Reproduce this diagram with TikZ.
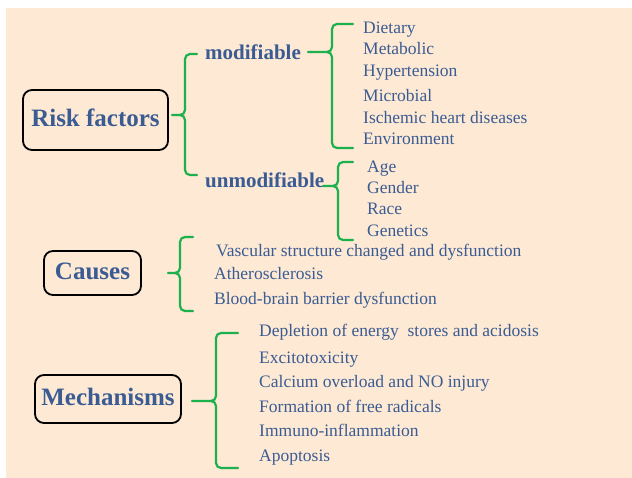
\documentclass[tikz,border=0pt]{standalone}
\usepackage{fontspec}
\setmainfont{Liberation Serif}
\definecolor{peach}{HTML}{FDE9D4}
\definecolor{txtblue}{HTML}{3B5C93}
\definecolor{bracegreen}{HTML}{1DB14E}
\tikzset{
  head/.style={draw=black, line width=1.8pt, rounded corners=9pt, text=txtblue,
    font=\fontsize{25}{30}\selectfont\bfseries, inner sep=0pt,
    text height=17pt, text depth=4pt},
  subhead/.style={anchor=base west, text=txtblue, inner sep=0pt,
    font=\fontsize{21}{25}\selectfont\bfseries},
  item/.style={anchor=base west, text=txtblue, inner sep=0pt,
    font=\fontsize{17.5}{21}\selectfont},
  brace line/.style={draw=bracegreen, line width=2.2pt, line cap=round,
    line join=round, rounded corners=5pt},
}
% tip x, tip y, stem x, top y, bottom y, arm x
\newcommand{\grpbrace}[6]{%
  \draw[brace line] (#6,#4) -- (#3,#4) -- (#3,#2) -- (#1,#2)
    (#1,#2) -- (#3,#2) -- (#3,#5) -- (#6,#5);}

\begin{document}
\begin{tikzpicture}[x=1pt,y=-1pt]
  \useasboundingbox (0,0) rectangle (632,478);
  \fill[peach] (6,8) rectangle (632,478);

  % main headings
  \node[head, minimum width=145pt, minimum height=60pt] (risk) at (95.5,120) {Risk factors};
  \node[head, minimum width=97pt, minimum height=44pt] (causes) at (92.5,273) {Causes};
  \node[head, minimum width=146pt, minimum height=48pt] (mech) at (108,399) {Mechanisms};

  % risk factors
  \grpbrace{172}{115}{185}{54}{175}{197}
  \node[subhead] (modif) at (205,60) {modifiable};
  \node[subhead] (unmodif) at (205,188) {unmodifiable};

  \grpbrace{308}{52}{332}{24}{148}{353}
  \foreach \t/\y [count=\i] in {Dietary/34, Metabolic/55, Hypertension/77,
      Microbial/101.5, Ischemic heart diseases/123.5, Environment/144.5}
    \node[item] (modf\i) at (363,\y) {\t};

  \grpbrace{323}{186}{338}{162}{240}{353}
  \foreach \t/\y [count=\i] in {Age/173, Gender/194, Race/215, Genetics/237}
    \node[item] (unmf\i) at (367,\y) {\t};

  % causes
  \grpbrace{168}{273}{180}{237}{311}{193}
  \node[item] (cause1) at (216,257) {Vascular structure changed and dysfunction};
  \node[item] (cause2) at (214,280) {Atherosclerosis};
  \node[item] (cause3) at (214,305) {Blood-brain barrier dysfunction};

  % mechanisms
  \grpbrace{192}{401}{216}{333}{468}{238}
  \foreach \t/\y [count=\i] in {Depletion of energy\ \ stores and acidosis/337,
      Excitotoxicity/363, Calcium overload and NO injury/387,
      Formation of free radicals/412, Immuno-inflammation/436, Apoptosis/461}
    \node[item] (mech\i) at (259,\y) {\t};
\end{tikzpicture}
\end{document}
